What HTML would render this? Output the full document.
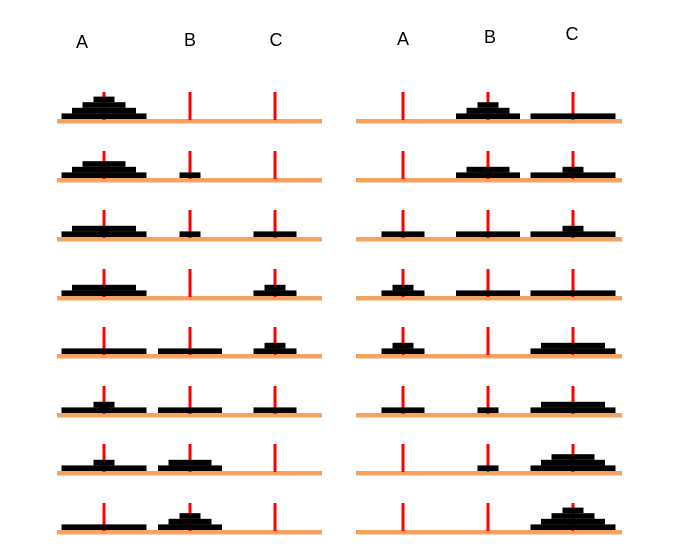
<!DOCTYPE html>
<html><head><meta charset="utf-8"><style>
body{margin:0;background:#fff;width:684px;height:555px;overflow:hidden}
svg{display:block}
text{font-family:"Liberation Sans",sans-serif;font-size:18px;fill:#000}
</style></head><body>
<svg id="s" width="684" height="555">
<text x="82" y="48" text-anchor="middle">A</text>
<text x="190" y="46" text-anchor="middle">B</text>
<text x="276" y="46" text-anchor="middle">C</text>
<text x="403" y="45" text-anchor="middle">A</text>
<text x="490" y="43" text-anchor="middle">B</text>
<text x="572" y="40" text-anchor="middle">C</text>
</svg>
<script>
const states=[
[[4,3,2,1],[],[]],[[4,3,2],[1],[]],[[4,3],[1],[2]],[[4,3],[],[2,1]],
[[4],[3],[2,1]],[[4,1],[3],[2]],[[4,1],[3,2],[]],[[4],[3,2,1],[]],
[[],[3,2,1],[4]],[[],[3,2],[4,1]],[[2],[3],[4,1]],[[2,1],[3],[4]],
[[2,1],[],[4,3]],[[2],[1],[4,3]],[[],[1],[4,3,2]],[[],[],[4,3,2,1]]
];
const diskWidths=[0,21,43,64,85];
const rowY=[121,180,239,298,356,415,473,532];
const panelPegs=[[104,190,275],[403,488,573]];
const panelBase=[[57,322],[356,622]];
const svg=document.getElementById('s');
const NS='http://www.w3.org/2000/svg';
function rect(x,y,w,h,fill,name){const r=document.createElementNS(NS,'rect');
r.setAttribute('x',x);r.setAttribute('y',y);r.setAttribute('width',w);r.setAttribute('height',h);r.setAttribute('fill',fill);


svg.appendChild(r);}
states.forEach((st,i)=>{
 const p=Math.floor(i/8),row=i%8,by=rowY[row];
 rect(panelBase[p][0],by-2,panelBase[p][1]-panelBase[p][0],4.5,'#f4a460','base-'+i);
 st.forEach((peg,j)=>{
  const px=panelPegs[p][j];
  rect(px-1.5,by-29,3,28,'#ff0000','peg-'+i+'-'+j);
  peg.forEach((d,k)=>{const w=diskWidths[d];
   rect(px-w/2,by-2-5.6*(k+1),w,5.6,'#000','disk-'+i+'-'+d);});
 });
});
</script>
</body></html>
